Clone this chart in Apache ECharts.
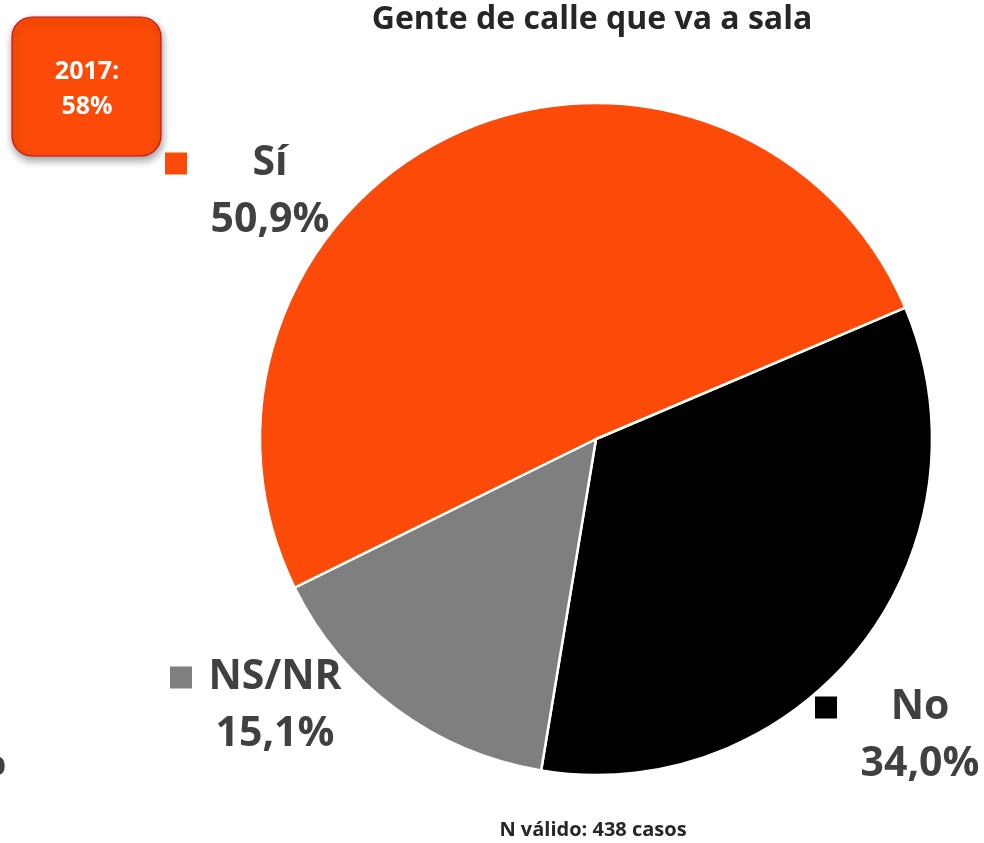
<!DOCTYPE html>
<html>
<head>
<meta charset="utf-8">
<script src="https://cdn.jsdelivr.net/npm/echarts@6/dist/echarts.min.js"></script>
<style>
  html, body { margin: 0; padding: 0; background: #fff; }
  #chart { width: 984px; height: 843px; }
</style>
</head>
<body>
<div id="chart"></div>
<script>
// data, clockwise from the upper right edge
const categories = ['No', 'NS/NR', 'Sí']
const values = [34.0, 15.1, 50.9]
const colors = ['#000000', '#7f7f7f', '#fc4b08']

const TITLE = 'Gente de calle que va a sala'
const NOTE = 'N válido: 438 casos'
const BOX_LINES = ['2017:', '58%']

const FONT = '"Open Sans", sans-serif'
const LABEL_COLOR = '#404040'

// where each label block sits (center of block)
const labelSpots = [[920, 736], [275, 706], [270, 192]]

const fmt = v => v.toFixed(1).replace('.', ',') + '%'

const seriesData = categories.map((name, i) => ({
  name: name,
  value: values[i],
  itemStyle: { color: colors[i] },
  label: {
    rich: {
      sq: { width: 22, height: 22, backgroundColor: colors[i], align: 'left' },
      sp: { width: 22, height: 22, align: 'right' },
      n: { fontSize: 41, fontWeight: 'bold', color: LABEL_COLOR, fontFamily: FONT, lineHeight: 57 },
      v: { fontSize: 41, fontWeight: 'bold', color: LABEL_COLOR, fontFamily: FONT, lineHeight: 57 }
    }
  }
}))

const chart = echarts.init(document.getElementById('chart'), null, { renderer: 'canvas' })

chart.setOption({
  animation: false,
  series: [{
    type: 'pie',
    center: [596, 439],
    radius: 336,
    startAngle: 23,
    clockwise: true,
    itemStyle: { borderColor: '#ffffff', borderWidth: 2.5 },
    label: {
      show: true,
      position: 'outside',
      width: 210,
      align: 'center',
      formatter: p => `{sq|}{n|${p.name}}{sp|}\n{v|${fmt(p.value)}}`
    },
    labelLine: { show: false },
    labelLayout: p => ({
      x: labelSpots[p.dataIndex][0],
      y: labelSpots[p.dataIndex][1],
      align: 'center',
      verticalAlign: 'middle'
    }),
    emphasis: { disabled: true },
    data: seriesData
  }],
  graphic: [
    {
      type: 'text',
      x: 592,
      y: 20,
      style: {
        text: TITLE, align: 'center', verticalAlign: 'middle',
        font: 'bold 32px ' + FONT, fill: '#262626'
      }
    },
    {
      type: 'text',
      x: 593,
      y: 830,
      style: {
        text: NOTE, align: 'center', verticalAlign: 'middle',
        font: 'bold 20px ' + FONT, fill: '#262626'
      }
    },
    {
      type: 'rect',
      shape: { x: 12, y: 17, width: 149, height: 139, r: 20 },
      style: {
        fill: '#fc4b08', stroke: '#c8101a', lineWidth: 1.2,
        shadowBlur: 8, shadowOffsetX: 1, shadowOffsetY: 4, shadowColor: 'rgba(0,0,0,0.4)'
      }
    },
    {
      type: 'text',
      x: 87,
      y: 89,
      style: {
        text: BOX_LINES.join('\n'), align: 'center', verticalAlign: 'middle', lineHeight: 35,
        font: 'bold 25px ' + FONT, fill: '#ffffff'
      }
    },
    {
      // cut-off leftover at the left edge
      type: 'text',
      x: 6,
      y: 763,
      style: {
        text: '%', align: 'right', verticalAlign: 'middle',
        font: 'bold 41px ' + FONT, fill: LABEL_COLOR
      }
    }
  ]
})
</script>
</body>
</html>
